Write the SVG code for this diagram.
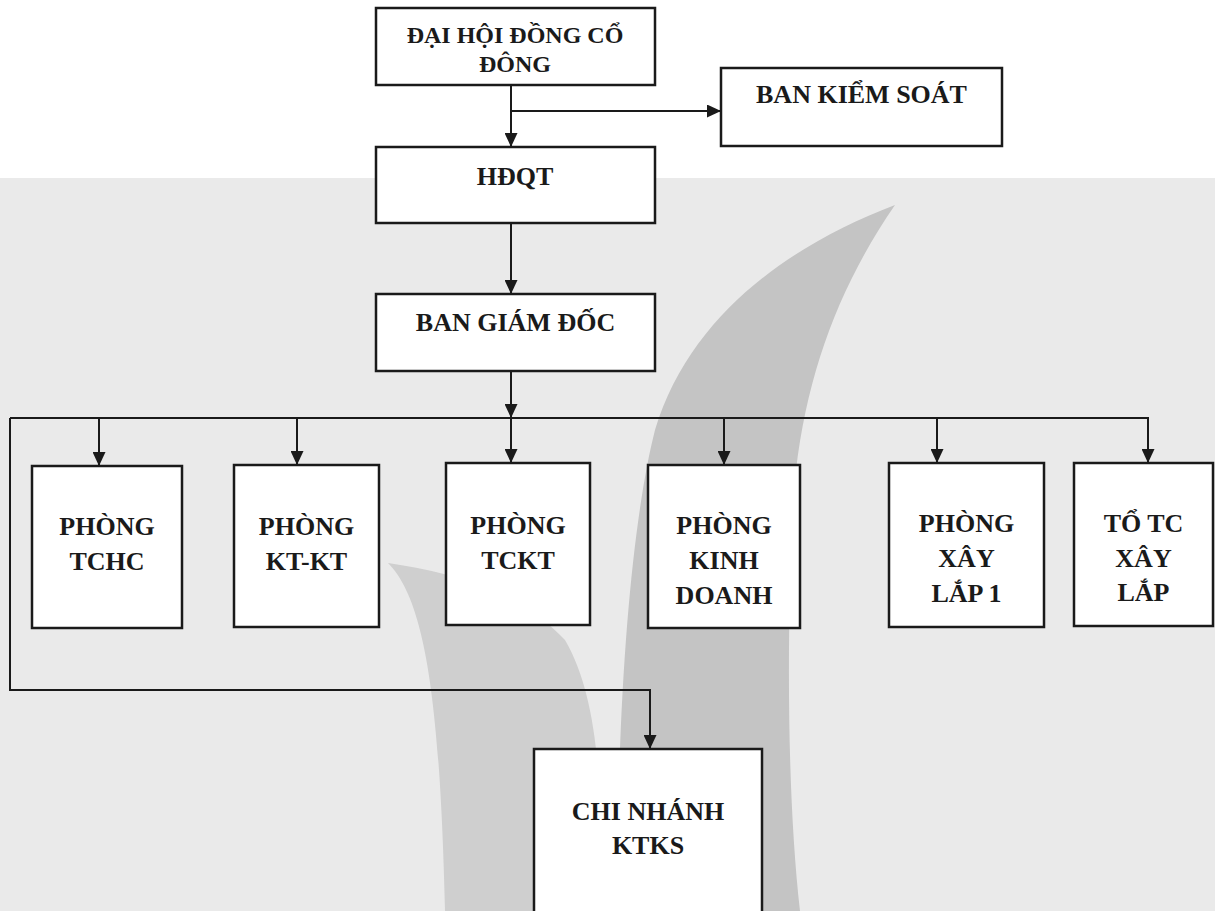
<svg xmlns="http://www.w3.org/2000/svg" width="1215" height="911" viewBox="0 0 1215 911">
  <style>
    .box { fill: #ffffff; stroke: #1a1a1a; stroke-width: 2.5; }
    .lbl { font-family: "Liberation Serif", "Times New Roman", serif; font-weight: bold; font-size: 26px; fill: #1a1a1a; text-anchor: middle; }
    .sm { font-size: 24px; }
    .conn { fill: none; stroke: #1a1a1a; stroke-width: 2; }
  </style>
  <defs>
    <marker id="arrow" markerUnits="userSpaceOnUse" markerWidth="14" markerHeight="13" refX="14" refY="6.5" orient="auto">
      <path d="M0,0 L14,6.5 L0,13 z" fill="#1a1a1a"/>
    </marker>
  </defs>

  <g id="background">
    <rect x="0" y="0" width="1215" height="911" fill="#ffffff"/>
    <rect x="0" y="178" width="1215" height="733" fill="#eaeaea"/>
    <path d="M895,205 C790,245 690,315 655,430 C632,520 616,700 618,911 L800,911 C786,790 786,600 796,470 C808,370 840,285 895,205 Z" fill="#c4c4c4"/>
    <path d="M388,563 C425,600 440,700 445,911 L598,911 C604,800 600,700 565,640 C525,598 470,575 388,563 Z" fill="#cfcfcf"/>
  </g>

  <g id="connectors">
    <path class="conn" d="M511,85 V147" marker-end="url(#arrow)"/>
    <path class="conn" d="M511,111 H721" marker-end="url(#arrow)"/>
    <path class="conn" d="M511,223 V294" marker-end="url(#arrow)"/>
    <path class="conn" d="M511,371 V418" marker-end="url(#arrow)"/>
    <path class="conn" d="M10,418 H1148 V463" marker-end="url(#arrow)"/>
    <path class="conn" d="M10,418 V690 H650 V749" marker-end="url(#arrow)"/>
    <path class="conn" d="M99,418 V466" marker-end="url(#arrow)"/>
    <path class="conn" d="M297,418 V465" marker-end="url(#arrow)"/>
    <path class="conn" d="M511,418 V463" marker-end="url(#arrow)"/>
    <path class="conn" d="M724,418 V465" marker-end="url(#arrow)"/>
    <path class="conn" d="M937,418 V463" marker-end="url(#arrow)"/>
  </g>

  <g id="dai-hoi-dong-co-dong">
    <rect class="box" x="376" y="8" width="279" height="77"/>
    <text class="lbl sm" x="515" y="43">ĐẠI HỘI ĐỒNG CỔ</text>
    <text class="lbl sm" x="515" y="72">ĐÔNG</text>
  </g>
  <g id="ban-kiem-soat">
    <rect class="box" x="721" y="68" width="281" height="78"/>
    <text class="lbl" x="861.5" y="103">BAN KIỂM SOÁT</text>
  </g>
  <g id="hdqt">
    <rect class="box" x="376" y="147" width="279" height="76"/>
    <text class="lbl" x="515" y="185">HĐQT</text>
  </g>
  <g id="ban-giam-doc">
    <rect class="box" x="376" y="294" width="279" height="77"/>
    <text class="lbl" x="515.5" y="331">BAN GIÁM ĐỐC</text>
  </g>
  <g id="phong-tchc">
    <rect class="box" x="32" y="466" width="150" height="162"/>
    <text class="lbl" x="107" y="535">PHÒNG</text>
    <text class="lbl" x="107" y="570">TCHC</text>
  </g>
  <g id="phong-kt-kt">
    <rect class="box" x="234" y="465" width="145" height="162"/>
    <text class="lbl" x="306.5" y="535">PHÒNG</text>
    <text class="lbl" x="306.5" y="570">KT-KT</text>
  </g>
  <g id="phong-tckt">
    <rect class="box" x="446" y="463" width="144" height="162"/>
    <text class="lbl" x="518" y="534">PHÒNG</text>
    <text class="lbl" x="518" y="569">TCKT</text>
  </g>
  <g id="phong-kinh-doanh">
    <rect class="box" x="648" y="465" width="152" height="163"/>
    <text class="lbl" x="724" y="534">PHÒNG</text>
    <text class="lbl" x="724" y="569">KINH</text>
    <text class="lbl" x="724" y="604">DOANH</text>
  </g>
  <g id="phong-xay-lap-1">
    <rect class="box" x="889" y="463" width="155" height="164"/>
    <text class="lbl" x="966.5" y="532">PHÒNG</text>
    <text class="lbl" x="966.5" y="567">XÂY</text>
    <text class="lbl" x="966.5" y="602">LẮP 1</text>
  </g>
  <g id="to-tc-xay-lap">
    <rect class="box" x="1074" y="463" width="139" height="163"/>
    <text class="lbl" x="1143.5" y="532">TỔ TC</text>
    <text class="lbl" x="1143.5" y="567">XÂY</text>
    <text class="lbl" x="1143.5" y="601">LẮP</text>
  </g>
  <g id="chi-nhanh-ktks">
    <rect class="box" x="534" y="749" width="228" height="175"/>
    <text class="lbl" x="648" y="820">CHI NHÁNH</text>
    <text class="lbl" x="648" y="854">KTKS</text>
  </g>
</svg>
